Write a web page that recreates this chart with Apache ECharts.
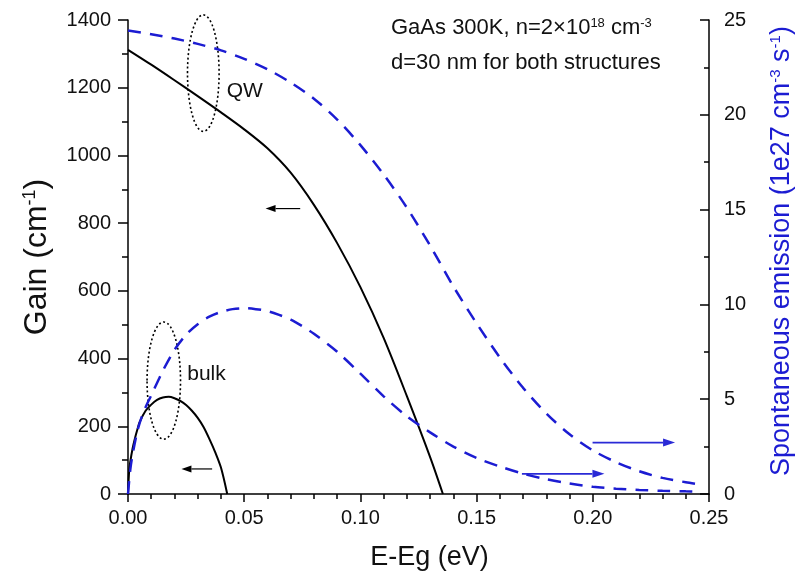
<!DOCTYPE html>
<html>
<head>
<meta charset="utf-8">
<script src="https://cdn.jsdelivr.net/npm/echarts@6/dist/echarts.min.js"></script>
<style>
  html, body { margin: 0; padding: 0; background: #fff; }
  #chart { width: 803px; height: 576px; }
</style>
</head>
<body>
<div id="chart"></div>
<script>
// ---- data ----

// QW gain, cm^-1 (left axis)
const qwGainE = [0, 0.01, 0.02, 0.03, 0.04, 0.05, 0.06, 0.07, 0.08, 0.09, 0.10, 0.11, 0.12, 0.13, 0.1355];
const qwGain = [1312, 1268, 1222, 1175, 1127, 1077, 1021, 949, 854, 741, 611, 461, 289, 109, 0];

// bulk gain, cm^-1 (left axis)
const bulkGainE = [0, 0.0005, 0.001, 0.002, 0.003, 0.004, 0.005, 0.0075, 0.01, 0.0125, 0.015, 0.0175,
  0.02, 0.0225, 0.025, 0.0275, 0.03, 0.0325, 0.035, 0.0375, 0.04, 0.0427];
const bulkGain = [0, 68, 96, 135, 165, 190, 212, 245, 264, 278, 285, 287,
  283, 275, 263, 246, 225, 198, 163, 124, 78, 0];

// QW spontaneous emission, 1e27 cm^-3 s^-1 (right axis)
const qwSpontE = [0, 0.01, 0.02, 0.03, 0.04, 0.05, 0.06, 0.07, 0.08, 0.09, 0.10, 0.11, 0.12, 0.13,
  0.14, 0.15, 0.16, 0.17, 0.18, 0.19, 0.20, 0.21, 0.22, 0.23, 0.24, 0.245];
const qwSpont = [24.45, 24.25, 24.02, 23.74, 23.4, 22.95, 22.4, 21.7, 20.85, 19.75, 18.4, 16.85, 15.1, 13.1,
  10.95, 9.0, 7.2, 5.6, 4.25, 3.15, 2.3, 1.68, 1.2, 0.85, 0.62, 0.52];

// bulk spontaneous emission (right axis)
const bulkSpontE = [0, 0.001, 0.002, 0.004, 0.006, 0.008, 0.01, 0.015, 0.02, 0.025, 0.03, 0.035, 0.04,
  0.045, 0.05, 0.055, 0.06, 0.065, 0.07, 0.075, 0.08, 0.09, 0.10, 0.11, 0.12, 0.13, 0.14, 0.15,
  0.16, 0.17, 0.18, 0.19, 0.20, 0.21, 0.22, 0.23, 0.24, 0.245];
const bulkSpont = [0, 1.3, 2.1, 3.3, 4.1, 4.7, 5.2, 6.5, 7.6, 8.4, 8.95, 9.35, 9.6,
  9.75, 9.8, 9.75, 9.65, 9.45, 9.2, 8.85, 8.45, 7.5, 6.35, 5.15, 4.1, 3.25, 2.5, 1.9,
  1.45, 1.07, 0.78, 0.55, 0.38, 0.28, 0.21, 0.17, 0.14, 0.13];

const font = "'Liberation Sans', Arial, Helvetica, sans-serif";
const blue = "#1c1cd2";

function pairs(xs, ys) {
    return xs.map((x, i) => [x, ys[i]]);
}

const chart = echarts.init(document.getElementById("chart"));

const tickLine = { color: "#000", width: 1.5 };

const option = {
    animation: false,
    backgroundColor: "#fff",
    grid: { left: 128, right: 88, top: 20, bottom: 80 },
    xAxis: {
        type: "value",
        min: 0,
        max: 0.25,
        interval: 0.05,
        name: "E-Eg (eV)",
        nameLocation: "middle",
        nameGap: 50,
        nameTextStyle: { fontFamily: font, fontSize: 27, color: "#111", padding: [0, 0, 0, 22] },
        axisLine: { onZero: false, lineStyle: tickLine },
        axisTick: { length: 8, lineStyle: tickLine },
        minorTick: { show: true, splitNumber: 5, length: 5, lineStyle: tickLine },
        splitLine: { show: false },
        axisLabel: {
            fontFamily: font, fontSize: 20, color: "#111", margin: 14,
            formatter: (v) => v.toFixed(2),
        },
    },
    yAxis: [
        {
            type: "value",
            min: 0,
            max: 1400,
            interval: 200,
            position: "left",
            name: "Gain (cm{sup|-1})",
            nameLocation: "middle",
            nameRotate: 90,
            nameGap: 75,
            nameTextStyle: {
                fontFamily: font, fontSize: 32, color: "#111",
                rich: { sup: { fontFamily: font, fontSize: 18, color: "#111", verticalAlign: "top" } },
            },
            axisLine: { show: true, onZero: false, lineStyle: tickLine },
            axisTick: { length: 10, lineStyle: tickLine },
            minorTick: { show: true, splitNumber: 2, length: 6, lineStyle: tickLine },
            splitLine: { show: false },
            axisLabel: {
                fontFamily: font, fontSize: 20, color: "#111", margin: 17,
                formatter: (v) => String(v),
            },
        },
        {
            type: "value",
            min: 0,
            max: 25,
            interval: 5,
            position: "right",
            name: "Spontaneous emission (1e27 cm{sup|-3} s{sup|-1})",
            nameLocation: "middle",
            nameRotate: 90,
            nameGap: 59,
            nameTextStyle: {
                fontFamily: font, fontSize: 27, color: blue, padding: [0, 0, 0, 12],
                rich: { sup: { fontFamily: font, fontSize: 15, color: blue, verticalAlign: "top" } },
            },
            axisLine: { show: true, onZero: false, lineStyle: tickLine },
            axisTick: { inside: true, length: 9, lineStyle: tickLine },
            minorTick: { show: true, splitNumber: 2, length: 5, lineStyle: tickLine },
            splitLine: { show: false },
            axisLabel: { fontFamily: font, fontSize: 20, color: "#111", margin: 15 },
        },
    ],
    series: [
        {
            name: "QW gain", type: "line", yAxisIndex: 0, smooth: 0.3, showSymbol: false,
            lineStyle: { color: "#000", width: 2 },
            data: pairs(qwGainE, qwGain),
        },
        {
            name: "bulk gain", type: "line", yAxisIndex: 0, smooth: 0.3, showSymbol: false,
            lineStyle: { color: "#000", width: 2 },
            data: pairs(bulkGainE, bulkGain),
        },
        {
            name: "QW spont", type: "line", yAxisIndex: 1, smooth: 0.3, showSymbol: false,
            lineStyle: { color: blue, width: 2.5, type: [13, 9] },
            data: pairs(qwSpontE, qwSpont),
        },
        {
            name: "bulk spont", type: "line", yAxisIndex: 1, smooth: 0.3, showSymbol: false,
            lineStyle: { color: blue, width: 2.5, type: [13, 9] },
            data: pairs(bulkSpontE, bulkSpont),
        },
    ],
};

chart.setOption(option);

// ---- annotations, placed in data coordinates ----
const leftPx = (p) => chart.convertToPixel({ xAxisIndex: 0, yAxisIndex: 0 }, p);
const rightPx = (p) => chart.convertToPixel({ xAxisIndex: 0, yAxisIndex: 1 }, p);

function ellipse(center, rx, ry) {
    const c = leftPx(center);
    const e = leftPx([center[0] + rx, center[1] + ry]);
    return {
        type: "ellipse",
        shape: { cx: c[0], cy: c[1], rx: Math.abs(e[0] - c[0]), ry: Math.abs(c[1] - e[1]) },
        style: { fill: null, stroke: "#000", lineWidth: 1.6, lineDash: [2, 2.5] },
    };
}

function arrow(a, b, color, head, half, width) {
    const dir = b[0] > a[0] ? 1 : -1;
    const base = [b[0] - dir * head, b[1]];
    return [
        {
            type: "line",
            shape: { x1: a[0], y1: a[1], x2: base[0], y2: base[1] },
            style: { stroke: color, lineWidth: width },
        },
        {
            type: "polygon",
            shape: { points: [b, [base[0], base[1] - half], [base[0], base[1] + half]] },
            style: { fill: color },
        },
    ];
}

function label(text, pos, size) {
    return {
        type: "text",
        x: pos[0],
        y: pos[1],
        style: {
            text: text,
            font: size + "px " + font,
            fill: "#111",
            verticalAlign: "middle",
            rich: { sup: { font: "13px " + font, fill: "#111", verticalAlign: "top" } },
        },
    };
}

const graphics = [
    ellipse([0.0324, 1243], 0.0068, 172),
    ellipse([0.0154, 335], 0.0072, 173),
    label("QW", leftPx([0.0425, 1190]), 21),
    label("bulk", leftPx([0.0255, 355]), 21),
    ...arrow(leftPx([0.0741, 843]), leftPx([0.0592, 843]), "#000", 10, 3.5, 1.2),
    ...arrow(leftPx([0.0362, 74]), leftPx([0.023, 74]), "#000", 10, 3.5, 1.2),
    ...arrow(rightPx([0.1999, 2.71]), rightPx([0.2354, 2.71]), "#2a2ad6", 12, 4, 1.8),
    ...arrow(rightPx([0.1695, 1.065]), rightPx([0.205, 1.065]), "#2a2ad6", 12, 4, 1.8),
    label("GaAs 300K, n=2×10{sup|18} cm{sup|-3}", [391, 28], 22),
    label("d=30 nm for both structures", [391, 63], 22),
];

chart.setOption({ graphic: graphics });
</script>
</body>
</html>
